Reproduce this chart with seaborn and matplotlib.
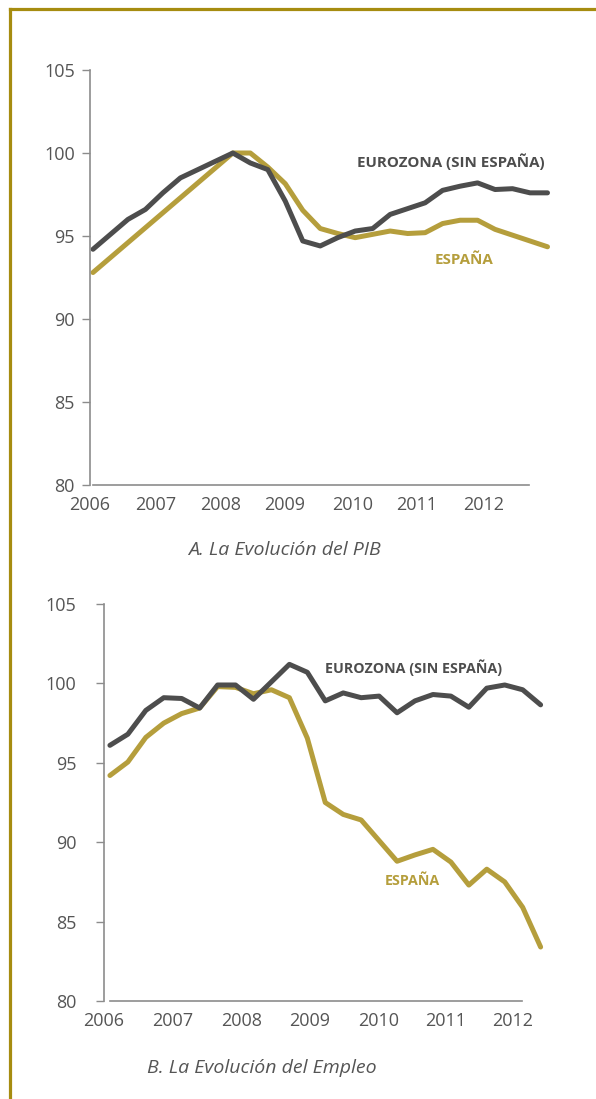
import matplotlib
matplotlib.use('Agg')
import matplotlib.pyplot as plt
from matplotlib.lines import Line2D
import pandas as pd
import seaborn as sns

sns.set_style('white')
plt.rcParams['font.family'] = ['Open Sans', 'DejaVu Sans']

# datos trimestrales (indice, 2008 = 100)
years = ['2006', '2007', '2008', '2009', '2010', '2011', '2012']

pib_eurozona = [94.2, 95.1, 96.0, 96.6, 97.6, 98.5, 99.0, 99.5, 100.0, 99.4, 99.0, 97.1, 94.7, 94.4,
                94.9, 95.3, 95.45, 96.3, 96.65, 97.0, 97.75, 98.0, 98.2, 97.8, 97.85, 97.6, 97.6]
pib_espana = [92.8, 93.7, 94.6, 95.5, 96.4, 97.3, 98.2, 99.1, 100.0, 100.0, 99.15, 98.15, 96.55, 95.45,
              95.15, 94.9, 95.1, 95.3, 95.15, 95.2, 95.75, 95.95, 95.95, 95.4, 95.05, 94.7, 94.35]

empleo_eurozona = [96.1, 96.8, 98.3, 99.1, 99.05, 98.45, 99.9, 99.9, 99.0, 100.1, 101.2, 100.7, 98.9,
                   99.4, 99.1, 99.2, 98.15, 98.9, 99.3, 99.2, 98.5, 99.7, 99.9, 99.6, 98.65]
empleo_espana = [94.2, 95.05, 96.6, 97.5, 98.1, 98.45, 99.8, 99.75, 99.35, 99.6, 99.1, 96.55, 92.5,
                 91.75, 91.4, 90.1, 88.8, 89.2, 89.55, 88.75, 87.3, 88.3, 87.5, 85.9, 83.4]

EURO = 'EUROZONA (SIN ESPAÑA)'
ESP = 'ESPAÑA'
GOLD = '#b59e3c'
GREY = '#4d4d4d'
AXIS = '#8c8c8c'
TEXT = '#555555'
FRAME = '#a68c10'

W, H = 596, 1099


def long_df(euro, esp):
    n = len(euro)
    return pd.DataFrame({
        'trimestre': list(range(n)) * 2,
        'valor': esp + euro,
        'serie': [ESP] * n + [EURO] * n,
    })


def panel(ax, df, xmax, spine_end, tick_pos, ypad):
    sns.lineplot(data=df, x='trimestre', y='valor', hue='serie', hue_order=[ESP, EURO],
                 palette={ESP: GOLD, EURO: GREY}, lw=3.6, legend=False, ax=ax)
    ax.set_xlim(0, xmax)
    ax.set_ylim(80, 105)
    ax.set_yticks([80, 85, 90, 95, 100, 105])
    ax.set_xticks(tick_pos)
    ax.set_xticklabels(years)
    ax.set_xlabel('')
    ax.set_ylabel('')
    for s in ['top', 'right']:
        ax.spines[s].set_visible(False)
    for s in ['left', 'bottom']:
        ax.spines[s].set_color(AXIS)
        ax.spines[s].set_linewidth(1.2)
    ax.spines['bottom'].set_bounds(0, spine_end)
    ax.tick_params(axis='y', length=6, width=1, color=AXIS, labelcolor=TEXT, labelsize=13,
                   pad=ypad, left=True)
    ax.tick_params(axis='x', length=0, labelcolor=TEXT, labelsize=13, pad=8)
    ax.patch.set_alpha(0)


fig = plt.figure(figsize=(W / 100, H / 100), dpi=100)

ax1 = fig.add_axes([90 / W, 614 / H, (551 - 90) / W, 415 / H])
panel(ax1, long_df(pib_eurozona, pib_espana), 26.2, 24.95,
      [-0.17, 3.58, 7.27, 10.97, 14.83, 18.52, 22.33], 5)
ax1.text(20.45, 99.5, EURO, color=GREY, fontsize=10.9, fontweight='bold', ha='center', va='center')
ax1.text(21.25, 93.55, ESP, color=GOLD, fontsize=10.9, fontweight='bold', ha='center', va='center')

ax2 = fig.add_axes([104 / W, 98 / H, (546 - 104) / W, 397 / H])
panel(ax2, long_df(empleo_eurozona, empleo_espana), 24.3, 22.97,
      [-0.33, 3.52, 7.36, 11.15, 14.95, 18.68, 22.42], 14)
ax2.text(16.92, 100.97, EURO, color=GREY, fontsize=10.3, fontweight='bold', ha='center', va='center')
ax2.text(16.87, 87.55, ESP, color=GOLD, fontsize=10.3, fontweight='bold', ha='center', va='center')

fig.text(284 / W, 1 - 550 / H, 'A. La Evolución del PIB', style='italic', fontsize=14,
         color=TEXT, ha='center', va='center')
fig.text(262 / W, 1 - 1068 / H, 'B. La Evolución del Empleo', style='italic', fontsize=14,
         color=TEXT, ha='center', va='center')

# marco dorado
fig.add_artist(Line2D([10 / W, 10 / W], [0, 1 - 9 / H], transform=fig.transFigure,
                      color=FRAME, lw=2.3, solid_capstyle='projecting'))
fig.add_artist(Line2D([10 / W, 1], [1 - 9 / H, 1 - 9 / H], transform=fig.transFigure,
                      color=FRAME, lw=2.3, solid_capstyle='projecting'))

fig.savefig('out.png', dpi=100)
